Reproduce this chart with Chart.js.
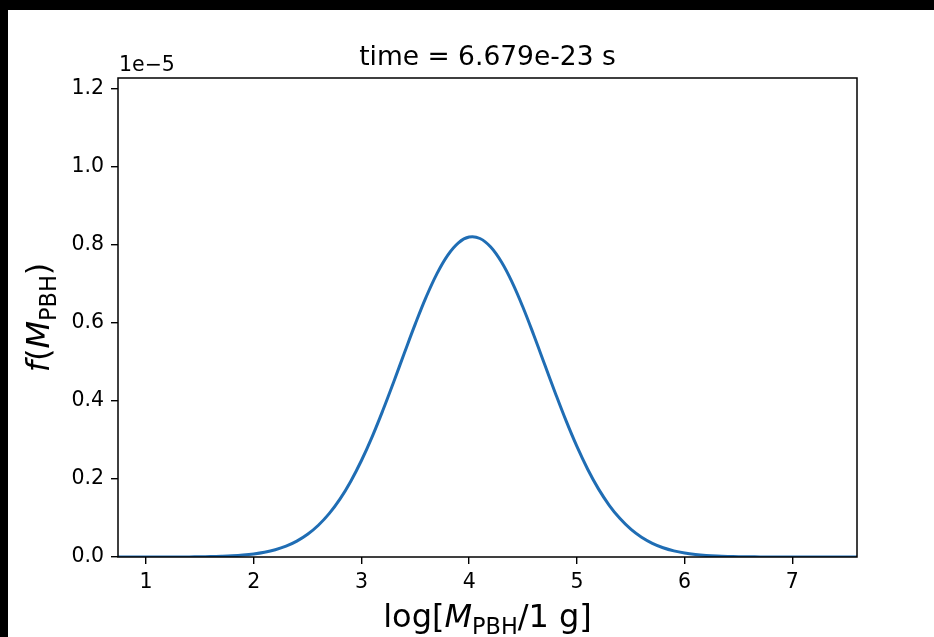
<!DOCTYPE html>
<html>
<head>
<meta charset="utf-8">
<script src="https://cdn.jsdelivr.net/npm/chart.js@4/dist/chart.umd.min.js"></script>
<style>
  html, body { margin: 0; padding: 0; background: #000; }
  #c { display: block; }
</style>
</head>
<body>
<canvas id="c" width="934" height="637"></canvas>
<script>
// ---- data (y in units of 1e-5) ----
const titleText = "time = 6.679e-23 s";
const yScaleLabel = "1e\u22125";
const xTicks = [1, 2, 3, 4, 5, 6, 7];
const yTicks = [0.0, 0.2, 0.4, 0.6, 0.8, 1.0, 1.2];
const logMass = [
  0.74, 0.8, 0.9, 1.0, 1.1, 1.2, 1.3, 1.4, 1.5, 1.6, 1.7, 1.8, 1.9,
  2.0, 2.1, 2.2, 2.3, 2.4, 2.5, 2.6, 2.7, 2.8, 2.9,
  3.0, 3.1, 3.2, 3.3, 3.4, 3.5, 3.6, 3.7, 3.8, 3.9,
  4.0, 4.1, 4.2, 4.3, 4.4, 4.5, 4.6, 4.7, 4.8, 4.9,
  5.0, 5.1, 5.2, 5.3, 5.4, 5.5, 5.6, 5.7, 5.8, 5.9,
  6.0, 6.1, 6.2, 6.3, 6.4, 6.5, 6.6, 6.7, 6.8, 6.9,
  7.0, 7.2, 7.4, 7.6
];
const fMass = [
  0.0, 0.0, 0.0, 0.0, 0.0, 0.0001, 0.0002, 0.0003, 0.0006, 0.0010, 0.0018, 0.0030, 0.0049,
  0.0078, 0.0122, 0.0186, 0.0278, 0.0407, 0.0582, 0.0814, 0.1111, 0.1483, 0.1938,
  0.2474, 0.3087, 0.3768, 0.4494, 0.5242, 0.5976, 0.6662, 0.7259, 0.7734, 0.8055,
  0.8202, 0.8165, 0.7946, 0.7561, 0.7033, 0.6396, 0.5686, 0.4942, 0.4200, 0.3489,
  0.2834, 0.2250, 0.1746, 0.1326, 0.0984, 0.0713, 0.0506, 0.0351, 0.0238, 0.0157,
  0.0102, 0.0065, 0.0040, 0.0024, 0.0014, 0.0008, 0.0005, 0.0003, 0.0001, 0.0,
  0.0, 0.0, 0.0, 0.0
];

const FONT = "'DejaVu Sans', sans-serif";

// measures a mixed math label: parts = [{t, italic, sub}]
function drawMath(ctx, parts, size) {
  let w = 0;
  const meas = parts.map(p => {
    const s = p.sub ? size * 0.7 : size;
    ctx.font = (p.italic ? "oblique " : "") + s + "px " + FONT;
    const mw = ctx.measureText(p.t).width;
    w += mw;
    return { ...p, s, mw };
  });
  return { w, meas };
}
function renderMath(ctx, info, x, y, size) {
  let cx = x;
  info.meas.forEach(p => {
    ctx.font = (p.italic ? "oblique " : "") + p.s + "px " + FONT;
    ctx.fillText(p.t, cx, p.sub ? y + size * 0.22 : y);
    cx += p.mw;
  });
}

const framePlugin = {
  id: "framePlugin",
  beforeDraw(chart) {
    const ctx = chart.ctx;
    ctx.save();
    ctx.fillStyle = "#000";
    ctx.fillRect(0, 0, chart.width, chart.height);
    ctx.fillStyle = "#fff";
    ctx.fillRect(8, 10, chart.width - 8, chart.height - 10);
    ctx.restore();
  },
  afterDraw(chart) {
    const ctx = chart.ctx;
    const a = chart.chartArea;
    ctx.save();
    ctx.strokeStyle = "#000";
    ctx.lineWidth = 1.5;
    ctx.strokeRect(a.left, a.top, a.right - a.left, a.bottom - a.top);

    ctx.fillStyle = "#000";
    ctx.textBaseline = "alphabetic";
    // title
    ctx.font = "26.5px " + FONT;
    ctx.textAlign = "center";
    ctx.fillText(titleText, (a.left + a.right) / 2, 65);
    // offset label
    ctx.font = "20.5px " + FONT;
    ctx.textAlign = "left";
    ctx.fillText(yScaleLabel, a.left + 1, 71);

    // x axis label
    const size = 32;
    ctx.textAlign = "left";
    const xl = drawMath(ctx, [
      { t: "log[" }, { t: "M", italic: true }, { t: "PBH", sub: true }, { t: "/1 g]" }
    ], size);
    renderMath(ctx, xl, (a.left + a.right) / 2 - xl.w / 2, 627, size);

    // y axis label
    const yl = drawMath(ctx, [
      { t: "f", italic: true }, { t: "(" }, { t: "M", italic: true }, { t: "PBH", sub: true }, { t: ")" }
    ], size);
    ctx.translate(49, (a.top + a.bottom) / 2);
    ctx.rotate(-Math.PI / 2);
    renderMath(ctx, yl, -yl.w / 2, 0, size);
    ctx.restore();
  }
};

new Chart(document.getElementById("c"), {
  type: "line",
  data: {
    datasets: [{
      data: logMass.map((x, i) => ({ x: x, y: fMass[i] })),
      borderColor: "#1f6db4",
      borderWidth: 3,
      pointRadius: 0,
      tension: 0.4,
      fill: false
    }]
  },
  options: {
    responsive: false,
    animation: false,
    events: [],
    layout: { padding: { left: 0, right: 77, top: 78, bottom: 0 } },
    plugins: { legend: { display: false }, title: { display: false }, tooltip: { enabled: false } },
    scales: {
      x: {
        type: "linear",
        min: 0.74,
        max: 7.6,
        afterFit(s) { s.height = 80; },
        afterBuildTicks(s) { s.ticks = xTicks.map(v => ({ value: v })); },
        border: { display: false },
        grid: { drawOnChartArea: false, drawTicks: true, tickLength: 7, color: "#000", lineWidth: 1.4 },
        ticks: {
          color: "#000", padding: 6, maxRotation: 0,
          font: { family: FONT, size: 20.5 },
          callback: v => String(v)
        }
      },
      y: {
        type: "linear",
        min: 0,
        max: 1.228,
        afterFit(s) { s.width = 118; },
        afterBuildTicks(s) { s.ticks = yTicks.map(v => ({ value: v })); },
        border: { display: false },
        grid: { drawOnChartArea: false, drawTicks: true, tickLength: 7, color: "#000", lineWidth: 1.4 },
        ticks: {
          color: "#000", padding: 7,
          font: { family: FONT, size: 20.5 },
          callback: v => Number(v).toFixed(1)
        }
      }
    }
  },
  plugins: [framePlugin]
});
</script>
</body>
</html>
